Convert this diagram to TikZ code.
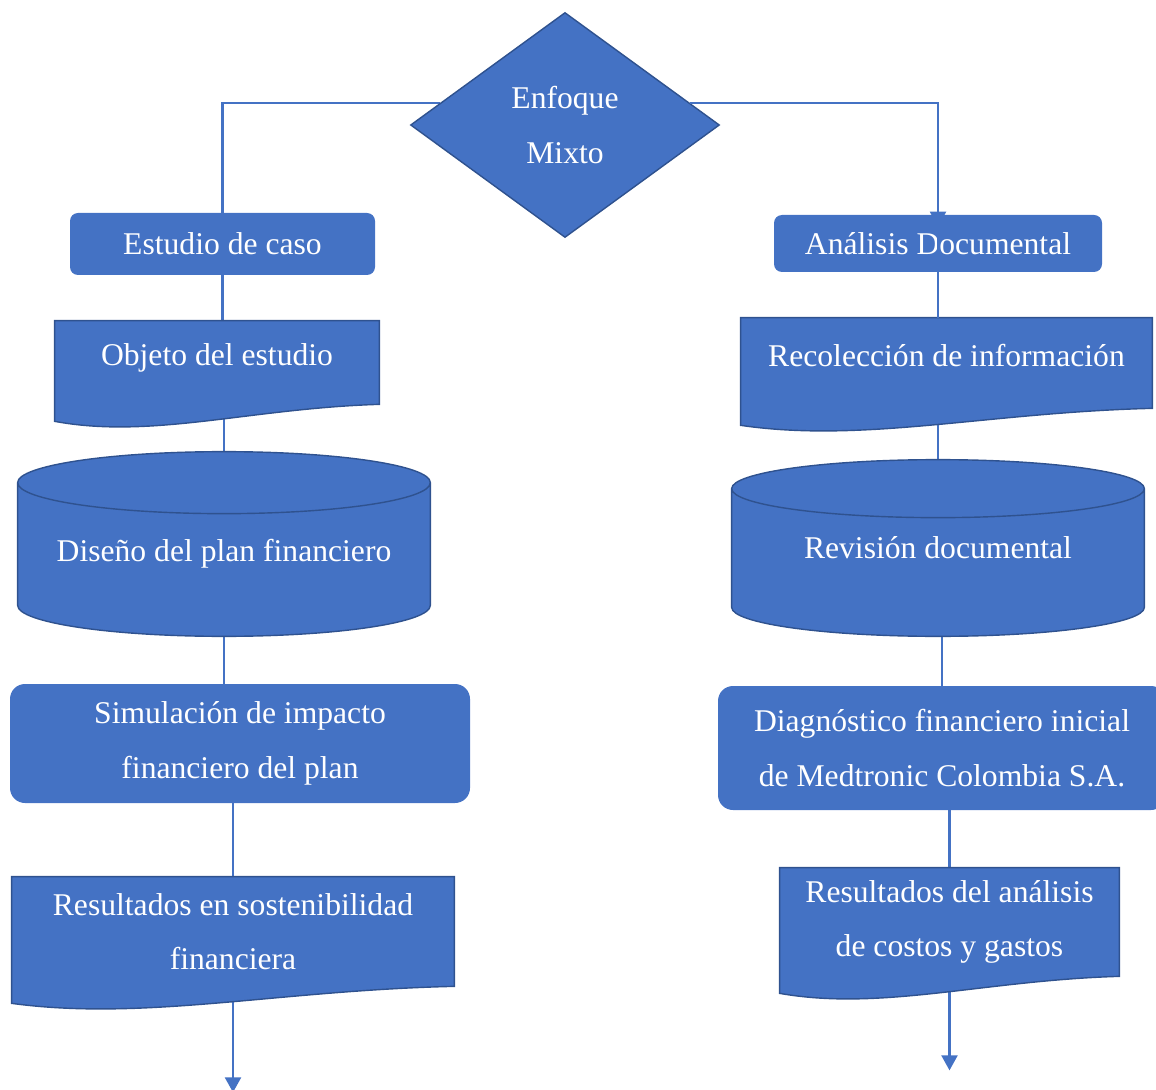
\documentclass[tikz,border=0pt]{standalone}
\usepackage{fontspec}
\setmainfont{Liberation Serif}
\usepackage{tikz}
\usetikzlibrary{arrows.meta,shapes.geometric,positioning,calc,backgrounds}
\definecolor{officeblue}{RGB}{68, 114, 196}
\definecolor{edgeblue}{RGB}{47, 82, 143}

\tikzset{
  link/.style={draw=officeblue, line width=1.3pt},
  linkarrow/.style={link, -{Triangle[width=0.32cm,length=0.3cm]}},
  box/.style={fill=officeblue, text=white, rounded corners=0.16cm, inner sep=0pt, align=center},
  bigbox/.style={box, rounded corners=0.3cm},
  shapetext/.style={text=white, inner sep=0pt, align=center},
  onelinetext/.style={shapetext, text depth=0.32cm},
  shapeline/.style={fill=officeblue, draw=edgeblue, line width=0.8pt},
  decision/.style={diamond, fill=officeblue, draw=edgeblue, line width=0.8pt,
    text=white, inner sep=0pt, align=center}
}

% document shape with a wavy bottom, round a node
\newcommand{\docshape}[1]{%
  \draw[shapeline] (#1.north west) -- (#1.north east) -- (#1.south east)
    .. controls ($(#1.south west)!0.6!(#1.south east)+(0,-0.08)$)
    and ($(#1.south west)!0.3!(#1.south east)+(0,-0.7)$)
    .. ([yshift=-0.34cm]#1.south west) -- cycle;
}
% cylinder round a node, #2 = y radius of the ends
\newcommand{\cylshape}[2]{%
  \draw[shapeline] let \p1=(#1.north west), \p2=(#1.south east), \n1={(\x2-\x1)/2} in
    (\x1,\y1-#2) -- (\x1,\y2+#2)
    arc[start angle=180, end angle=360, x radius=\n1, y radius=#2]
    -- (\x2,\y1-#2)
    arc[start angle=0, end angle=180, x radius=\n1, y radius=#2] -- cycle
    (\x1,\y1-#2) arc[start angle=180, end angle=360, x radius=\n1, y radius=#2];
}

\begin{document}
\begin{tikzpicture}[font=\fontsize{18pt}{31pt}\selectfont]
  \useasboundingbox (0,0) rectangle (23.12,-21.8);

  % Central diamond
  \node[decision, minimum width=6.18cm, minimum height=4.5cm] (enfoque) at (11.3,-2.5) {Enfoque\\Mixto};

  % Left branch
  \node[box, minimum width=6.1cm, minimum height=1.24cm] (estudio) at (4.45,-4.88) {Estudio de caso};
  \node[onelinetext, minimum width=6.48cm, minimum height=1.66cm] (objeto) at (4.34,-7.25) {Objeto del estudio};
  \node[shapetext, text height=0.84cm, minimum width=8.24cm, minimum height=3.68cm] (diseno) at (4.48,-10.88) {Diseño del plan financiero};
  \node[bigbox, minimum width=9.2cm, minimum height=2.38cm] (simulacion) at (4.8,-14.87) {Simulación de impacto\\financiero del plan};
  \node[shapetext, minimum width=8.84cm, minimum height=2.18cm] (sostenibilidad) at (4.66,-18.63) {Resultados en sostenibilidad\\financiera};
  \coordinate (finA) at ([yshift=-2.12cm]sostenibilidad.south);

  % Right branch
  \node[box, minimum width=6.56cm, minimum height=1.14cm] (analisis) at (18.76,-4.87) {Análisis Documental};
  \node[onelinetext, minimum width=8.22cm, minimum height=1.8cm] (recoleccion) at (18.93,-7.26) {Recolección de información};
  \node[shapetext, minimum width=8.24cm, minimum height=3.52cm] (revision) at (18.76,-10.96) {Revisión documental};
  \node[bigbox, minimum width=8.96cm, minimum height=2.48cm] (diagnostico) at (18.84,-14.96) {Diagnóstico financiero inicial\\de Medtronic Colombia S.A.};
  \node[shapetext, minimum width=6.78cm, minimum height=2.16cm] (costos) at (18.99,-18.44) {Resultados del análisis\\de costos y gastos};
  \coordinate (finB) at ([yshift=-1.88cm]costos.south);

  % Connectors behind the shapes
  \begin{scope}[on background layer]
    \draw[link] (enfoque.170) -| (estudio.north);
    \draw[link] (estudio.south) -- (estudio.south |- objeto.north);
    \draw[link] (diseno.north |- objeto.south) -- (diseno.north);
    \draw[link] (diseno.south) -- (diseno.south |- simulacion.north);
    \draw[link] (sostenibilidad.north |- simulacion.south) -- (sostenibilidad.north);
    \draw[linkarrow] (sostenibilidad.south) -- (finA);

    \draw[link] (recoleccion.south -| revision.north) -- (revision.north);
    \draw[link] (diagnostico.north |- revision.south) -- (diagnostico.north);
    \draw[link] (costos.north |- diagnostico.south) -- (costos.north);
    \draw[linkarrow] (costos.south) -- (finB);
  \end{scope}

  % Shapes drawn round the text nodes
  \begin{scope}[on background layer]
    \docshape{objeto}
    \docshape{sostenibilidad}
    \docshape{recoleccion}
    \docshape{costos}
    \cylshape{diseno}{0.62cm}
    \cylshape{revision}{0.58cm}
  \end{scope}

  % Arrow into Análisis Documental
  \draw[linkarrow] (enfoque.10) -| ([yshift=-0.24cm]analisis.north);
  \draw[link] (analisis.north) -- (analisis.north |- recoleccion.north);
\end{tikzpicture}
\end{document}
